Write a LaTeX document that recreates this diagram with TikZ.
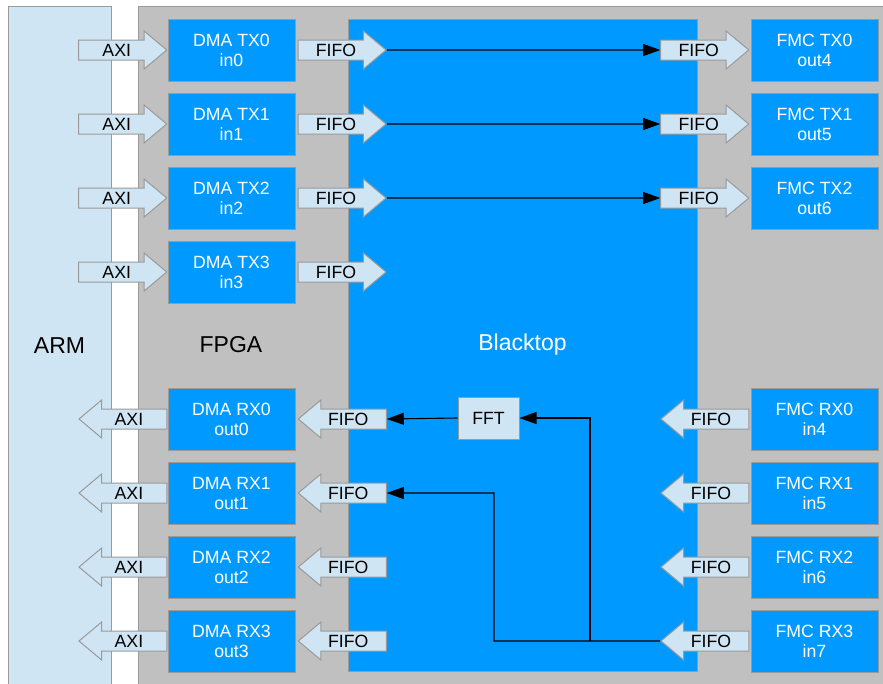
\documentclass[tikz,border=0pt]{standalone}
\usepackage{fontspec}
\setmainfont{Liberation Sans}
\usepackage{tikz}
\usetikzlibrary{arrows.meta,positioning,shapes.arrows}
\definecolor{bluex}{HTML}{0099FF}
\definecolor{softx}{HTML}{CFE5F3}
\definecolor{grayx}{HTML}{C0C0C0}
\definecolor{edgex}{HTML}{9A9A9A}
\newcommand{\lblfont}{\fontsize{17.7}{20}\selectfont}
\newcommand{\bigfont}{\fontsize{23}{26}\selectfont}
\tikzset{
  panel/.style={draw=edgex,line width=1pt,inner sep=0pt,font=\bigfont},
  blk/.style={draw=edgex,line width=1pt,fill=bluex,text=white,minimum width=127pt,minimum height=62pt,align=center,inner sep=0pt,font=\lblfont},
  ba/.style={single arrow,draw=edgex,line width=1pt,fill=softx,minimum height=88pt,minimum width=37pt,
    single arrow head extend=9pt,single arrow tip angle=80,inner xsep=0pt,inner ysep=3.15pt,
    text height=12.7pt,text depth=0pt,font=\lblfont},
  bal/.style={ba,shape border rotate=180},
  fftbox/.style={draw=edgex,line width=1pt,fill=softx,minimum width=61pt,minimum height=42pt,inner sep=0pt,font=\lblfont},
  ln/.style={-{Triangle[length=17pt,width=12pt]},line width=1.1pt,black}
}

\begin{document}
\begin{tikzpicture}[x=1pt,y=-1pt]
\useasboundingbox (0,0) rectangle (883,683);
\node[panel,fill=grayx,minimum width=760pt,minimum height=680pt] (fpga) at (518,346) {};
\node[panel,fill=softx,minimum width=103pt,minimum height=680pt] (arm) at (59.5,346) {ARM};
\node[font=\bigfont] (fpgalbl) at (231,345) {FPGA};
\node[panel,fill=bluex,text=white,minimum width=349pt,minimum height=652pt] (bt) at (522.5,345) {Blacktop};
% DMA TX side
\foreach \i/\y in {0/50,1/124,2/198,3/272} {
  \node[blk] (dtx\i) at (231.5,\y) {DMA TX\i\\in\i};
  \node[ba,left=0pt of dtx\i] (atx\i) {AXI};
  \node[ba,right=2pt of dtx\i] (ftx\i) {FIFO};
}
% DMA RX side
\foreach \i/\y in {0/419,1/493,2/567,3/641} {
  \node[blk] (drx\i) at (231.5,\y) {DMA RX\i\\out\i};
  \node[bal,left=0pt of drx\i] (arx\i) {AXI};
  \node[bal,right=2pt of drx\i] (frx\i) {FIFO};
}
% FMC TX side
\foreach \i/\o/\y in {0/4/50,1/5/124,2/6/198} {
  \node[blk] (mtx\i) at (814.5,\y) {FMC TX\i\\out\o};
  \node[ba,left=1pt of mtx\i] (mtxf\i) {FIFO};
  \draw[ln] (ftx\i.tip) -- (mtxf\i.tail);
}
% FMC RX side
\foreach \i/\o/\y in {0/4/419,1/5/493,2/6/567,3/7/641} {
  \node[blk] (mrx\i) at (814.5,\y) {FMC RX\i\\in\o};
  \node[bal,left=1pt of mrx\i] (mrxf\i) {FIFO};
}
\node[fftbox] (fft) at (488.5,418) {FFT};
\coordinate (brR) at (590,641);
\coordinate (brL) at (494,641);
\draw[ln] (fft.west) -- (frx0.tail);
\draw[ln] (mrxf3.tip) -- (brL) |- (frx1.tail);
\draw[ln] (brR) |- (fft.east);
\end{tikzpicture}
\end{document}
